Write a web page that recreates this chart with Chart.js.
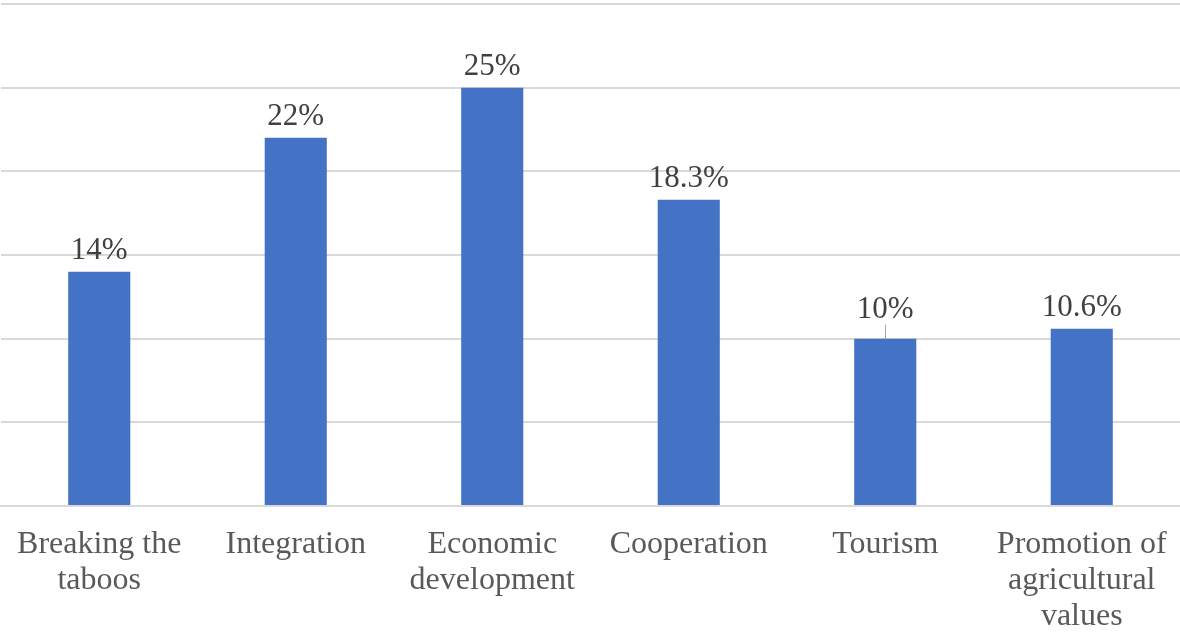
<!DOCTYPE html>
<html>
<head>
<meta charset="utf-8">
<script src="https://cdn.jsdelivr.net/npm/chart.js@4/dist/chart.umd.min.js"></script>
<style>
  html, body { margin: 0; padding: 0; background: #fff; }
  #wrap { width: 1180px; height: 633px; }
</style>
</head>
<body>
<div id="wrap"><canvas id="barGraph"></canvas></div>
<script>
var categories = [
  ['Breaking the', 'taboos'],
  'Integration',
  ['Economic', 'development'],
  'Cooperation',
  'Tourism',
  ['Promotion of', 'agricultural', 'values']
];
var shares = [14, 22, 25, 18.3, 10, 10.6];
var yTicks = [0, 5, 10, 15, 20, 25, 30];

var serif = '"Liberation Serif", "Times New Roman", serif';

// value labels above each bar, with a short leader line when the label sits high
var barLabels = {
  id: 'barLabels',
  afterDatasetsDraw: function(chart, args, opts) {
    var ctx = chart.ctx;
    var meta = chart.getDatasetMeta(0);
    ctx.save();
    ctx.font = '31px ' + serif;
    ctx.fillStyle = '#404040';
    ctx.textAlign = 'center';
    ctx.textBaseline = 'alphabetic';
    meta.data.forEach(function(bar, i) {
      var lift = (opts.lift && opts.lift[i]) || 13;
      ctx.fillText(shares[i] + '%', bar.x, bar.y - lift);
      if (lift > 13) {
        ctx.strokeStyle = '#a6a6a6';
        ctx.lineWidth = 1;
        ctx.beginPath();
        ctx.moveTo(Math.round(bar.x) + 0.5, bar.y);
        ctx.lineTo(Math.round(bar.x) + 0.5, bar.y - lift + 7);
        ctx.stroke();
      }
    });
    ctx.restore();
  }
};

var ctx = document.getElementById('barGraph');
var chart = new Chart(ctx, {
  type: 'bar',
  data: {
    labels: categories,
    datasets: [{
      data: shares,
      backgroundColor: '#4472C4',
      borderWidth: 0,
      categoryPercentage: 1,
      barPercentage: 0.316
    }]
  },
  options: {
    responsive: true,
    maintainAspectRatio: false,
    animation: false,
    layout: { padding: { top: 4, left: 1, right: 0, bottom: 0 } },
    plugins: {
      legend: { display: false },
      tooltip: { enabled: false },
      barLabels: { lift: [13, 13, 13, 13, 21, 13] }
    },
    scales: {
      x: {
        grid: { display: false, drawTicks: false },
        border: { color: '#d9d9d9', width: 2 },
        afterFit: function(axis) {
          axis.height = 127;
          axis.paddingLeft = 0;
          axis.paddingRight = 0;
        },
        ticks: {
          color: '#595959',
          font: { family: serif, size: 32, lineHeight: 1.125 },
          padding: 21,
          maxRotation: 0,
          autoSkip: false
        }
      },
      y: {
        min: yTicks[0],
        max: yTicks[yTicks.length - 1],
        afterBuildTicks: function(axis) {
          axis.ticks = yTicks.map(function(v) { return { value: v }; });
        },
        grid: { color: '#d9d9d9', lineWidth: 2, drawTicks: false },
        border: { display: false },
        ticks: { display: false }
      }
    }
  },
  plugins: [barLabels]
});
</script>
</body>
</html>
